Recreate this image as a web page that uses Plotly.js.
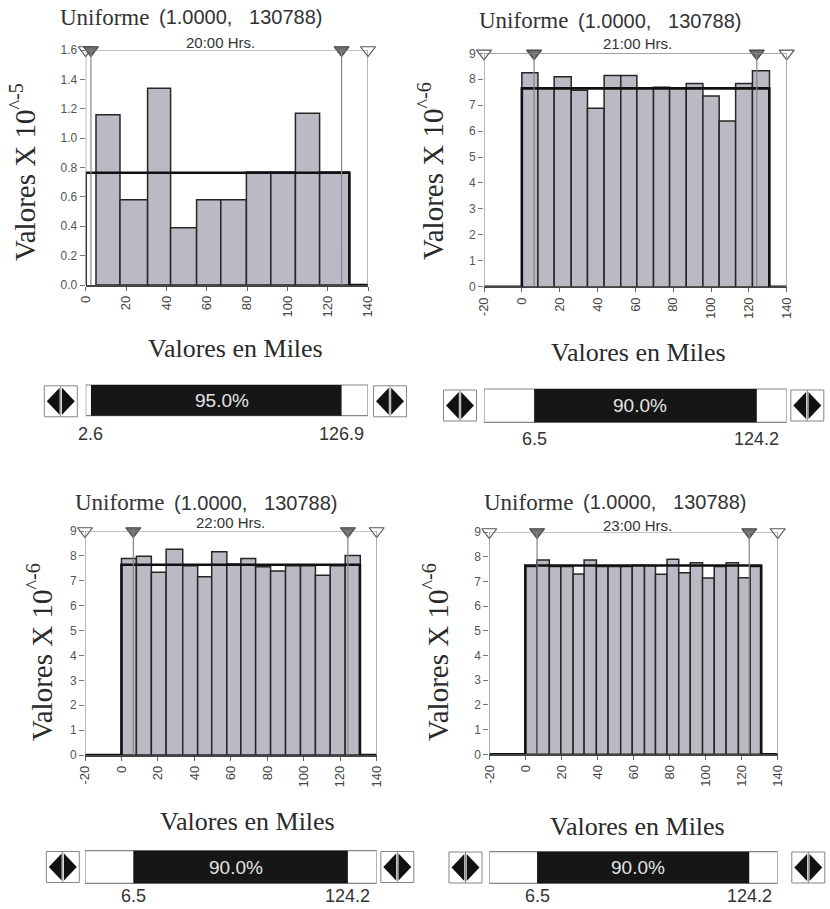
<!DOCTYPE html>
<html>
<head>
<meta charset="utf-8">
<script src="https://cdn.plot.ly/plotly-3.0.1.min.js"></script>
<style>html,body{margin:0;padding:0;background:#fff;}#chart{width:830px;height:909px;}</style>
</head>
<body>
<div id="chart"></div>
<script>
// ---------------- DATA ----------------
const distName = 'Uniforme';
const distParams = [1.0000, 130788];
const hours = ['20:00 Hrs.', '21:00 Hrs.', '22:00 Hrs.', '23:00 Hrs.'];
const yExponents = ['^-5', '^-6', '^-6', '^-6'];
const yScales = [1e-5, 1e-6, 1e-6, 1e-6];

const xTicks20 = [0, 20, 40, 60, 80, 100, 120, 140];
const xTicksOther = [-20, 0, 20, 40, 60, 80, 100, 120, 140];
const yTicks20 = [0, 0.2, 0.4, 0.6, 0.8, 1.0, 1.2, 1.4, 1.6];
const yTicksOther = [0, 1, 2, 3, 4, 5, 6, 7, 8, 9];

const edges20 = [5.1, 17.0, 30.7, 42.1, 55.0, 67.0, 79.7, 91.8, 104.0, 116.0, 130.6];
const heights20 = [1.16, 0.58, 1.34, 0.39, 0.58, 0.58, 0.77, 0.77, 1.17, 0.77];

const edges21 = [0, 8.5, 17.1, 26.1, 34.7, 43.5, 52.3, 60.8, 69.6, 78.1, 86.9, 95.7, 104.3, 113.0, 121.9, 130.9];
const heights21 = [8.25, 7.67, 8.10, 7.58, 6.88, 8.14, 8.14, 7.65, 7.69, 7.65, 7.84, 7.35, 6.39, 7.84, 8.33];

const edges22 = [0, 8.2, 16.4, 24.5, 33.6, 41.8, 49.5, 57.8, 65.5, 73.6, 81.8, 90.0, 98.2, 106.4, 114.5, 122.7, 131.0];
const heights22 = [7.90, 7.99, 7.34, 8.27, 7.60, 7.16, 8.17, 7.67, 7.90, 7.56, 7.39, 7.60, 7.60, 7.22, 7.60, 8.02];

const edges23 = [0, 6.4, 13.3, 19.7, 26.5, 32.6, 39.4, 45.9, 52.9, 59.3, 66.1, 72.2, 78.6, 85.1, 91.5, 98.3, 104.8, 111.4, 118.2, 124.7, 131.0];
const heights23 = [7.60, 7.87, 7.60, 7.60, 7.30, 7.87, 7.60, 7.60, 7.60, 7.65, 7.64, 7.29, 7.90, 7.35, 7.76, 7.14, 7.60, 7.76, 7.15, 7.60];

const openMarks20 = [0, 140];
const filledMarks20 = [2.6, 126.9];
const openMarksOther = [-20, 140];
const filledMarksOther = [6.5, 124.2];
const pctLabels = ['95.0%', '90.0%', '90.0%', '90.0%'];
const yMax = [1.6, 9, 9, 9];

// ---------------- LAYOUT GEOMETRY (pixels) ----------------
const W = 830, H = 909;
const PX = x => x / W;
const PY = y => 1 - y / H;
const SERIF = 'Liberation Serif, Times New Roman, serif';
const SANS = 'Liberation Sans, Arial, sans-serif';

const panels = [
  {edges: edges20, heights: heights20, xt: xTicks20, yt: yTicks20, open: openMarks20, filled: filledMarks20,
   dx: [85.7, 368], dy: [50, 285], titleL: 58, titleY: 17, subX: 220, subY: 42, ytX: 23, ytY: 172,
   xtX: 235, xtY: 348, sl: [385, 415.7], labY: 434, btnL: 60.8, btnR: 390, btnY: 401.3, yfmt: '.1f'},
  {edges: edges21, heights: heights21, xt: xTicksOther, yt: yTicksOther, open: openMarksOther, filled: filledMarksOther,
   dx: [484, 786.7], dy: [53.3, 286.7], titleL: 477, titleY: 21, subX: 637, subY: 44, ytX: 431, ytY: 171,
   xtX: 638, xtY: 352, sl: [389, 422.3], labY: 439, btnL: 460, btnR: 807.3, btnY: 405.5, yfmt: 'd'},
  {edges: edges22, heights: heights22, xt: xTicksOther, yt: yTicksOther, open: openMarksOther, filled: filledMarksOther,
   dx: [85, 376.7], dy: [531, 755], titleL: 73, titleY: 503, subX: 230, subY: 522, ytX: 40, ytY: 652,
   xtX: 247, xtY: 821, sl: [850.7, 883.3], labY: 896, btnL: 62.8, btnR: 397.3, btnY: 867, yfmt: 'd'},
  {edges: edges23, heights: heights23, xt: xTicksOther, yt: yTicksOther, open: openMarksOther, filled: filledMarksOther,
   dx: [489.3, 777.7], dy: [532, 754.3], titleL: 482, titleY: 502, subX: 637, subY: 525, ytX: 436, ytY: 652,
   xtX: 637, xtY: 826, sl: [851.7, 883.3], labY: 896, btnL: 465.5, btnR: 808.3, btnY: 867.5, yfmt: 'd'}
];

const traces = [];
const shapes = [];
const annotations = [];
const layout = {
  width: W, height: H, margin: {l: 0, r: 0, t: 0, b: 0},
  paper_bgcolor: '#fff', plot_bgcolor: 'rgba(0,0,0,0)', showlegend: false,
  bargap: 0, font: {family: SANS, color: '#444', size: 12}
};

const GRAY = '#858585';
const uLow = distParams[0] / 1000, uHigh = distParams[1] / 1000;

function button(cx, cy) {
  const w = 33, h = 31, th = 13.5;
  shapes.push({type: 'rect', xref: 'paper', yref: 'paper', x0: PX(cx - w / 2), x1: PX(cx + w / 2),
    y0: PY(cy + h / 2), y1: PY(cy - h / 2), line: {color: GRAY, width: 1}, fillcolor: '#fff', layer: 'above'});
  shapes.push({type: 'line', xref: 'paper', yref: 'paper', x0: PX(cx), x1: PX(cx),
    y0: PY(cy + h / 2), y1: PY(cy - h / 2), line: {color: GRAY, width: 1}});
  const tri = pts => 'M' + pts.map(p => PX(p[0]) + ',' + PY(p[1])).join(' L') + ' Z';
  shapes.push({type: 'path', xref: 'paper', yref: 'paper', path: tri([[cx - 14, cy], [cx - 1.2, cy - th], [cx - 1.2, cy + th]]),
    fillcolor: '#111', line: {width: 0}});
  shapes.push({type: 'path', xref: 'paper', yref: 'paper', path: tri([[cx + 14, cy], [cx + 1.2, cy - th], [cx + 1.2, cy + th]]),
    fillcolor: '#111', line: {width: 0}});
}

panels.forEach((p, i) => {
  const n = i === 0 ? '' : String(i + 1);
  const xa = 'x' + n, ya = 'y' + n;
  const xmin = p.xt[0], xmax = p.xt[p.xt.length - 1];
  const ymax = yMax[i];

  layout['xaxis' + n] = {
    domain: [PX(p.dx[0]), PX(p.dx[1])], anchor: ya, range: [xmin, xmax],
    tickmode: 'array', tickvals: p.xt, ticktext: p.xt.map(v => String(v)), tickangle: -90,
    ticks: 'outside', ticklen: 4, tickcolor: '#666',
    showgrid: false, zeroline: false, showline: true, linecolor: '#444', linewidth: 1.5,
    tickfont: {family: SANS, size: 13, color: '#444'}, fixedrange: true
  };
  layout['yaxis' + n] = {
    domain: [PY(p.dy[1]), PY(p.dy[0])], anchor: xa, range: [0, ymax],
    tickmode: 'array', tickvals: p.yt, tickformat: p.yfmt, ticks: 'outside', ticklen: 5, tickcolor: '#777',
    showgrid: false, zeroline: false, showline: false,
    tickfont: {family: SANS, size: 12, color: '#555'}, fixedrange: true
  };

  // histogram bars
  const centers = p.heights.map((_, k) => (p.edges[k] + p.edges[k + 1]) / 2);
  const widths = p.heights.map((_, k) => p.edges[k + 1] - p.edges[k]);
  traces.push({type: 'bar', x: centers, y: p.heights, width: widths, xaxis: xa, yaxis: ya,
    marker: {color: '#b9bac3', line: {color: '#262626', width: 1.5}}, hoverinfo: 'skip'});

  // uniform density outline
  const dens = 1 / (distParams[1] - distParams[0]) / yScales[i];
  traces.push({type: 'scatter', mode: 'lines', x: [xmin, uLow, uHigh, xmax], y: [0, dens, 0, 0],
    line: {shape: 'hv', color: '#111', width: 2.6}, xaxis: xa, yaxis: ya, hoverinfo: 'skip', cliponaxis: false});

  // frame & marker lines
  shapes.push({type: 'line', xref: xa, yref: ya, x0: p.open[0], x1: p.open[1], y0: ymax, y1: ymax,
    line: {color: GRAY, width: 1.2}});
  p.open.concat(p.filled).forEach(v => {
    shapes.push({type: 'line', xref: xa, yref: ya, x0: v, x1: v, y0: 0, y1: ymax, line: {color: GRAY, width: 1.2}});
  });
  traces.push({type: 'scatter', mode: 'markers', x: p.open, y: p.open.map(() => ymax), xaxis: xa, yaxis: ya,
    marker: {symbol: 'triangle-down', size: 13, color: '#fff', line: {color: '#555', width: 1.2}},
    cliponaxis: false, hoverinfo: 'skip'});
  traces.push({type: 'scatter', mode: 'markers', x: p.filled, y: p.filled.map(() => ymax), xaxis: xa, yaxis: ya,
    marker: {symbol: 'triangle-down', size: 13, color: '#6f6f6f', line: {color: '#444', width: 1.2}},
    cliponaxis: false, hoverinfo: 'skip'});

  // titles
  annotations.push({xref: 'paper', yref: 'paper', x: PX(p.titleL), y: PY(p.titleY), xanchor: 'left', yanchor: 'middle',
    text: distName, showarrow: false, font: {family: SERIF, size: 23, color: '#333'}});
  annotations.push({xref: 'paper', yref: 'paper', x: PX(p.titleL + 99), y: PY(p.titleY), xanchor: 'left', yanchor: 'middle',
    text: '(' + distParams[0].toFixed(4) + ',\u00a0\u00a0\u00a0' + distParams[1] + ')', showarrow: false,
    font: {family: SANS, size: 20, color: '#333'}});
  annotations.push({xref: 'paper', yref: 'paper', x: PX(p.subX), y: PY(p.subY), xanchor: 'center', yanchor: 'middle',
    text: hours[i], showarrow: false, font: {family: SANS, size: 15, color: '#333'}});
  annotations.push({xref: 'paper', yref: 'paper', x: PX(p.ytX), y: PY(p.ytY), xanchor: 'center', yanchor: 'middle',
    text: 'Valores X 10<sup>' + yExponents[i] + '</sup>', textangle: -90, showarrow: false,
    font: {family: SERIF, size: 29, color: '#2a2a2a'}});
  annotations.push({xref: 'paper', yref: 'paper', x: PX(p.xtX), y: PY(p.xtY), xanchor: 'center', yanchor: 'middle',
    text: 'Valores en Miles', showarrow: false, font: {family: SERIF, size: 26, color: '#2a2a2a'}});

  // slider
  shapes.push({type: 'rect', xref: xa, yref: 'paper', x0: xmin, x1: xmax, y0: PY(p.sl[1]), y1: PY(p.sl[0]),
    fillcolor: '#fff', line: {color: GRAY, width: 1.2}});
  shapes.push({type: 'rect', xref: xa, yref: 'paper', x0: p.filled[0], x1: p.filled[1], y0: PY(p.sl[1]), y1: PY(p.sl[0]),
    fillcolor: '#161616', line: {width: 0}});
  const mid = ((p.filled[0] + p.filled[1]) / 2 + (xmin + xmax) / 2) / 2;
  annotations.push({xref: xa, yref: 'paper', x: mid, y: PY((p.sl[0] + p.sl[1]) / 2), xanchor: 'center', yanchor: 'middle',
    text: pctLabels[i], showarrow: false, font: {family: SANS, size: 19, color: '#e4e4e4'}});
  p.filled.forEach(v => {
    annotations.push({xref: xa, yref: 'paper', x: v, y: PY(p.labY), xanchor: 'center', yanchor: 'middle',
      text: v.toFixed(1), showarrow: false, font: {family: SANS, size: 18, color: '#333'}});
  });
  button(p.btnL, p.btnY);
  button(p.btnR, p.btnY);
});

layout.shapes = shapes;
layout.annotations = annotations;
Plotly.newPlot('chart', traces, layout, {displayModeBar: false, staticPlot: true});
</script>
</body>
</html>
